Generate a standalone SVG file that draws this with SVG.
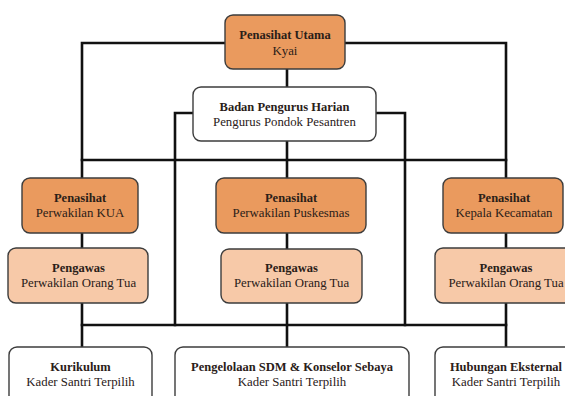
<svg xmlns="http://www.w3.org/2000/svg" width="565" height="396" viewBox="0 0 565 396">
<style>
.c{fill:none;stroke:#111;stroke-width:2.6;stroke-linecap:square}
.b{stroke:#3c3c3c;stroke-width:1.4}
.dk{fill:#EA9A5E}
.lt{fill:#F7C9A8}
.wh{fill:#fff}
text{font-size:12.8px;fill:#2a2018;text-anchor:middle}
.t{font-weight:bold;font-size:12.5px}
</style>
<rect width="565" height="396" fill="#fff"/>
<g id="connectors">
<path class="c" d="M82,178 V43 H506 V178"/>
<path class="c" d="M82,160 H506"/>
<path class="c" d="M287,69 V87 M287,141 V178"/>
<path class="c" d="M175,325 V113 H405 V325"/>
<path class="c" d="M82,233 V248 M287,233 V249 M506,233 V248"/>
<path class="c" d="M82,303 V347 M287,303 V347 M506,303 V347"/>
<path class="c" d="M82,325 H506"/>
</g>
<g font-family="'Liberation Serif', 'Times New Roman', 'DejaVu Serif', serif">
<g id="penasihat-utama">
<rect class="b dk" x="225" y="15" width="120" height="54" rx="8"/>
<text class="t" x="285" y="39">Penasihat Utama</text>
<text x="285" y="55">Kyai</text>
</g>
<g id="badan-pengurus-harian">
<rect class="b wh" x="193" y="87" width="183" height="54" rx="8"/>
<text class="t" x="284.5" y="111">Badan Pengurus Harian</text>
<text x="284.5" y="126">Pengurus Pondok Pesantren</text>
</g>
<g id="penasihat-kua">
<rect class="b dk" x="22" y="178" width="116" height="55" rx="8"/>
<text class="t" x="80" y="202">Penasihat</text>
<text x="80" y="217">Perwakilan KUA</text>
</g>
<g id="penasihat-puskesmas">
<rect class="b dk" x="216" y="178" width="150" height="55" rx="8"/>
<text class="t" x="291" y="202">Penasihat</text>
<text x="291" y="217">Perwakilan Puskesmas</text>
</g>
<g id="penasihat-kecamatan">
<rect class="b dk" x="443" y="178" width="120" height="55" rx="8"/>
<text class="t" x="504" y="202">Penasihat</text>
<text x="504" y="217">Kepala Kecamatan</text>
</g>
<g id="pengawas-1">
<rect class="b lt" x="8" y="248" width="140" height="55" rx="8"/>
<text class="t" x="78.5" y="272">Pengawas</text>
<text x="78.5" y="287">Perwakilan Orang Tua</text>
</g>
<g id="pengawas-2">
<rect class="b lt" x="221" y="249" width="141" height="54" rx="8"/>
<text class="t" x="291.5" y="272">Pengawas</text>
<text x="291.5" y="287">Perwakilan Orang Tua</text>
</g>
<g id="pengawas-3">
<rect class="b lt" x="435" y="248" width="142" height="55" rx="8"/>
<text class="t" x="506" y="272">Pengawas</text>
<text x="506" y="287">Perwakilan Orang Tua</text>
</g>
<g id="kurikulum">
<rect class="b wh" x="9" y="347" width="143" height="60" rx="8"/>
<text class="t" x="80.5" y="371">Kurikulum</text>
<text x="80.5" y="386">Kader Santri Terpilih</text>
</g>
<g id="sdm-konselor">
<rect class="b wh" x="175" y="347" width="234" height="60" rx="8"/>
<text class="t" x="292" y="371">Pengelolaan SDM &amp; Konselor Sebaya</text>
<text x="292" y="386">Kader Santri Terpilih</text>
</g>
<g id="hubungan-eksternal">
<rect class="b wh" x="435" y="347" width="142" height="60" rx="8"/>
<text class="t" x="506" y="371">Hubungan Eksternal</text>
<text x="506" y="386">Kader Santri Terpilih</text>
</g>
</g>
</svg>
